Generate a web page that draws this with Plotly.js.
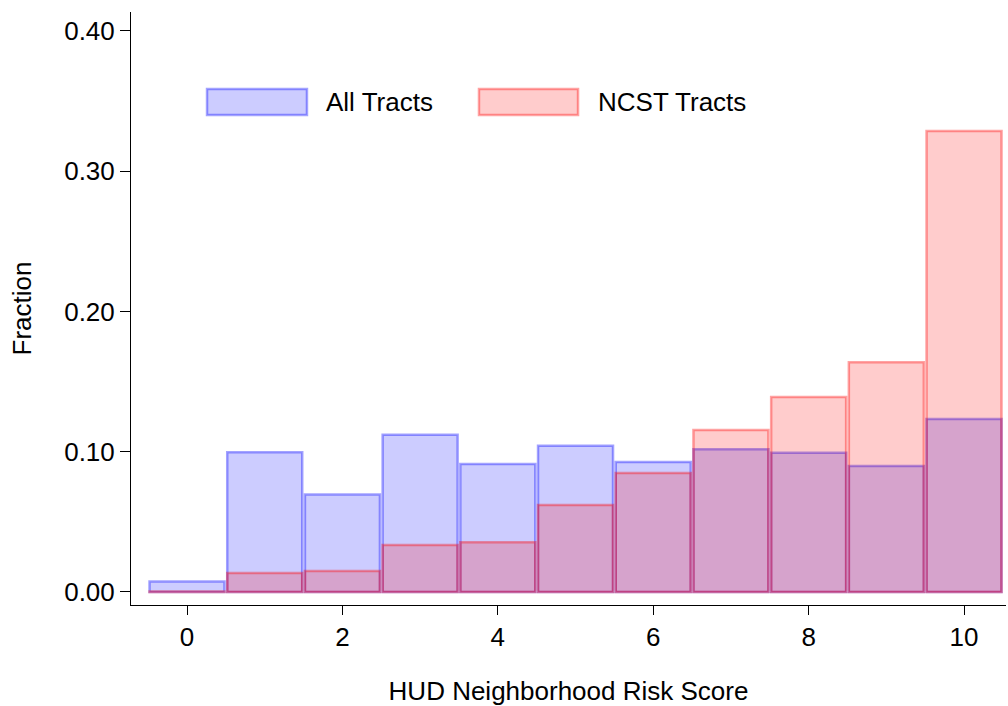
<!DOCTYPE html>
<html>
<head>
<meta charset="utf-8">
<script src="https://cdn.plot.ly/plotly-3.0.1.min.js"></script>
<style>html,body{margin:0;padding:0;background:#fff;}#chart{width:1008px;height:706px;}</style>
</head>
<body>
<div id="chart"></div>
<script>
// Data
const scores = [0, 1, 2, 3, 4, 5, 6, 7, 8, 9, 10];
const allTracts = [0.0075, 0.0996, 0.0695, 0.112, 0.0913, 0.1043, 0.0927, 0.1017, 0.0993, 0.0898, 0.1234];
const ncstTracts = [0.0004, 0.0135, 0.015, 0.0335, 0.0354, 0.062, 0.0849, 0.1155, 0.139, 0.1638, 0.3287];
const seriesNames = ["All Tracts", "NCST Tracts"];
const yTicks = [0, 0.1, 0.2, 0.3, 0.4];
const xTicks = [0, 2, 4, 6, 8, 10];

const FONT = "Liberation Sans, Arial, sans-serif";
const blueFill = "rgba(0,0,255,0.2)", blueLine = "rgba(0,0,255,0.36)";
const redFill = "rgba(255,0,0,0.2)", redLine = "rgba(255,0,0,0.36)";

const traces = [
  {type: "bar", x: scores, y: allTracts, name: seriesNames[0], width: 0.965,
   marker: {color: blueFill, line: {color: blueLine, width: 2.5}}, showlegend: false},
  {type: "bar", x: scores, y: ncstTracts, name: seriesNames[1], width: 0.965,
   marker: {color: redFill, line: {color: redLine, width: 2.5}}, showlegend: false}
];

const layout = {
  width: 1008, height: 706,
  paper_bgcolor: "#fff", plot_bgcolor: "#fff",
  margin: {l: 131, r: 2, t: 12, b: 101},
  barmode: "overlay",
  font: {family: FONT, size: 26, color: "#000"},
  xaxis: {
    range: [-0.721, 10.54], tickvals: xTicks, ticktext: xTicks.map(String),
    showline: true, linecolor: "#000", linewidth: 1, mirror: false,
    ticks: "outside", ticklen: 9, tickwidth: 1, tickcolor: "#000",
    showgrid: false, zeroline: false,
    tickfont: {family: FONT, size: 26},
    title: {text: "HUD Neighborhood Risk Score", font: {family: FONT, size: 26}, standoff: 30}
  },
  yaxis: {
    range: [-0.0093, 0.4135], tickvals: yTicks, ticktext: yTicks.map(v => v.toFixed(2)),
    showline: true, linecolor: "#000", linewidth: 1,
    ticks: "outside", ticklen: 10, tickwidth: 1, tickcolor: "#000",
    showgrid: false, zeroline: false,
    tickfont: {family: FONT, size: 26},
    title: {text: "Fraction", font: {family: FONT, size: 26}, standoff: 25}
  },
  shapes: [
    {type: "rect", xref: "paper", yref: "paper", x0: 0.0869, x1: 0.2011, y0: 0.8263, y1: 0.870,
     fillcolor: blueFill, line: {color: blueLine, width: 2.5}},
    {type: "rect", xref: "paper", yref: "paper", x0: 0.3977, x1: 0.5109, y0: 0.8263, y1: 0.870,
     fillcolor: redFill, line: {color: redLine, width: 2.5}}
  ],
  annotations: [
    {xref: "paper", yref: "paper", x: 0.2206, y: 0.848, xanchor: "left", yanchor: "middle",
     text: seriesNames[0], showarrow: false, font: {family: FONT, size: 26, color: "#000"}},
    {xref: "paper", yref: "paper", x: 0.5314, y: 0.848, xanchor: "left", yanchor: "middle",
     text: seriesNames[1], showarrow: false, font: {family: FONT, size: 26, color: "#000"}}
  ]
};

Plotly.newPlot("chart", traces, layout, {displayModeBar: false, staticPlot: true});
</script>
</body>
</html>
